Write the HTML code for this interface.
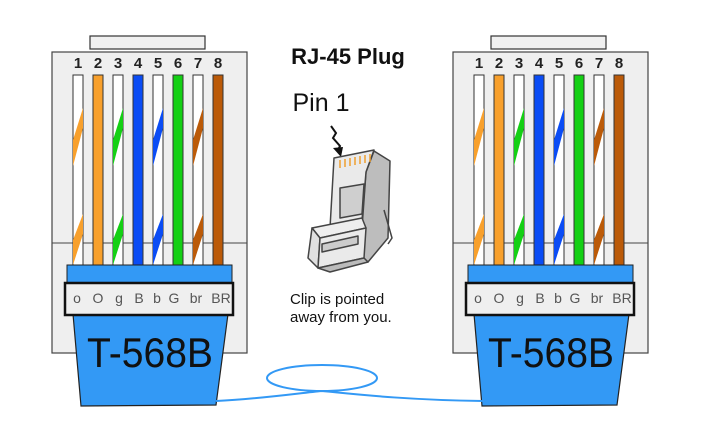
<!DOCTYPE html>
<html><head><meta charset="utf-8"><style>
html,body{margin:0;padding:0;background:#fff;}
svg{display:block;}
text{font-family:"Liberation Sans",Arial,sans-serif;}
</style></head><body>
<svg width="702" height="432" viewBox="0 0 702 432" xmlns="http://www.w3.org/2000/svg">
<defs>
<g id="plug">
  <rect x="90" y="36" width="115" height="13" fill="#f0f0f0" stroke="#333" stroke-width="1.2"/>
  <rect x="52" y="52" width="195" height="301" fill="#efefef" stroke="#444" stroke-width="1.2"/>
  <line x1="52" y1="243" x2="247" y2="243" stroke="#444" stroke-width="1"/>
  <g font-size="15" font-weight="bold" fill="#222" text-anchor="middle">
    <text x="78" y="68">1</text><text x="98" y="68">2</text><text x="118" y="68">3</text><text x="138" y="68">4</text>
    <text x="158" y="68">5</text><text x="178" y="68">6</text><text x="198" y="68">7</text><text x="218" y="68">8</text>
  </g>
  <g stroke="#333" stroke-width="1">
    <rect x="73" y="75" width="10" height="191" fill="#fff"/>
    <rect x="93" y="75" width="10" height="191" fill="#f8a02c"/>
    <rect x="113" y="75" width="10" height="191" fill="#fff"/>
    <rect x="133" y="75" width="10" height="191" fill="#0a4cf5"/>
    <rect x="153" y="75" width="10" height="191" fill="#fff"/>
    <rect x="173" y="75" width="10" height="191" fill="#14d014"/>
    <rect x="193" y="75" width="10" height="191" fill="#fff"/>
    <rect x="213" y="75" width="10" height="191" fill="#bb5a08"/>
  </g>
  <g>
    <polygon points="73,140 83,108 83,128 73,166" fill="#f8a02c"/>
    <polygon points="73,240 83,214 83,234 73,265" fill="#f8a02c"/>
    <polygon points="113,140 123,108 123,128 113,166" fill="#14d014"/>
    <polygon points="113,240 123,214 123,234 113,265" fill="#14d014"/>
    <polygon points="153,140 163,108 163,128 153,166" fill="#0a4cf5"/>
    <polygon points="153,240 163,214 163,234 153,265" fill="#0a4cf5"/>
    <polygon points="193,140 203,108 203,128 193,166" fill="#bb5a08"/>
    <polygon points="193,240 203,214 203,234 193,265" fill="#bb5a08"/>
  </g>
  <rect x="67" y="265" width="165" height="18" fill="#3399f5" stroke="#222" stroke-width="1"/>
  <polygon points="73,314 228,314 216,405 81,406" fill="#3399f5" stroke="#222" stroke-width="1.2"/>
  <rect x="65" y="283" width="168" height="32" fill="#efefef" stroke="#111" stroke-width="2.5"/>
  <g font-size="14" fill="#555" text-anchor="middle">
    <text x="77" y="303">o</text><text x="98" y="303">O</text><text x="119" y="303">g</text><text x="139" y="303">B</text>
    <text x="157" y="303">b</text><text x="174" y="303">G</text><text x="196" y="303">br</text><text x="221" y="303">BR</text>
  </g>
  <text x="150" y="367" font-size="42" fill="#111" text-anchor="middle" textLength="126" lengthAdjust="spacingAndGlyphs">T-568B</text>
</g>
</defs>
<use href="#plug"/>
<use href="#plug" transform="translate(401,0)"/>
<ellipse cx="322" cy="378" rx="55" ry="13" fill="none" stroke="#3399f5" stroke-width="2"/>
<path d="M216,401 C260,399 300,393 322,391 C345,393 400,400 483,401" fill="none" stroke="#3399f5" stroke-width="2"/>
<text x="348" y="64" font-size="22" font-weight="bold" fill="#111" text-anchor="middle">RJ-45 Plug</text>
<text x="321" y="111" font-size="25" fill="#111" text-anchor="middle">Pin 1</text>
<path d="M331,126 L336,133 L333,138 L340,146 L338,150" fill="none" stroke="#111" stroke-width="2"/>
<polygon points="333,148 343,147 341,157" fill="#111"/>
<g stroke="#444" stroke-width="1.5" stroke-linejoin="round">
  <polygon points="374,151 390,161 388,238 368,262 360,256 366,172" fill="#bdbdbd"/>
  <polygon points="334,158 374,150 366,172 362,220 330,228" fill="#eaeaea"/>
  <polygon points="340,188 364,184 362,214 340,218" fill="#cfcfcf"/>
  <polygon points="312,228 362,218 366,228 320,238" fill="#eee"/>
  <polygon points="312,228 320,238 318,268 308,258" fill="#e0e0e0"/>
  <polygon points="320,238 366,228 364,258 318,268" fill="#eaeaea"/>
  <polygon points="322,244 358,236 358,244 322,252" fill="#ccc"/>
  <polygon points="318,268 364,258 368,262 330,272" fill="#bbb"/>
  <path d="M384,210 L392,238 L388,244" fill="none"/>
</g>
<g stroke="#f0a030" stroke-width="1.5">
  <line x1="340" y1="160" x2="340" y2="168"/><line x1="345" y1="159" x2="345" y2="167"/>
  <line x1="350" y1="158" x2="350" y2="166"/><line x1="355" y1="157" x2="355" y2="165"/>
  <line x1="360" y1="156" x2="360" y2="164"/><line x1="365" y1="155" x2="365" y2="163"/>
  <line x1="370" y1="154" x2="370" y2="162"/>
</g>
<text x="290" y="304" font-size="15" fill="#111">Clip is pointed</text>
<text x="290" y="322" font-size="15" fill="#111">away from you.</text>
</svg>
</body></html>
